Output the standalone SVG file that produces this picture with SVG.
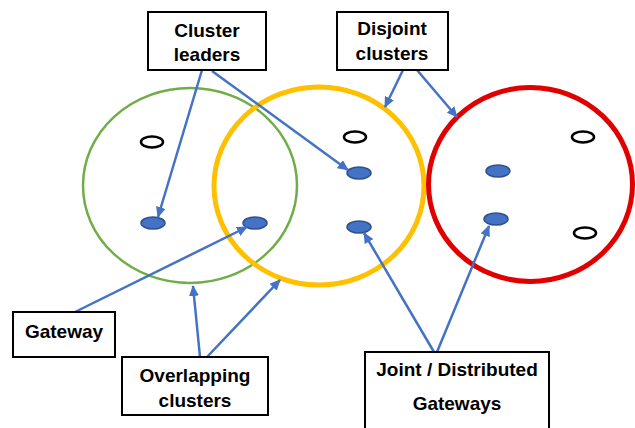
<svg xmlns="http://www.w3.org/2000/svg" width="635" height="428" viewBox="0 0 635 428">
<style>
.box{fill:#fff;stroke:#000;stroke-width:2}
.lbl{font-family:"Liberation Sans",Arial,sans-serif;font-weight:bold;font-size:19px;fill:#000;text-anchor:middle}
.dot{fill:#4472C4;stroke:#2F528F;stroke-width:1.5}
.hole{fill:#fff;stroke:#000;stroke-width:2.5}
.arr{stroke:#4472C4;stroke-width:2.5;fill:none;marker-end:url(#ah)}
</style>
<defs>
<marker id="ah" markerUnits="userSpaceOnUse" markerWidth="12" markerHeight="10" refX="10" refY="5" orient="auto">
<path d="M0,0 L11,5 L0,10 Z" fill="#4472C4"/>
</marker>
</defs>
<rect width="635" height="428" fill="#fff"/>
<g id="cluster-green">
<ellipse cx="190" cy="185.5" rx="107" ry="97.5" fill="none" stroke="#70AD47" stroke-width="2.5"/>
<ellipse cx="152" cy="142" rx="11" ry="5.5" class="hole"/>
<ellipse cx="153" cy="223" rx="12" ry="6" class="dot"/>
</g>
<g id="cluster-yellow">
<ellipse cx="319" cy="186" rx="105" ry="99" fill="none" stroke="#FFC000" stroke-width="5"/>
<ellipse cx="355" cy="137" rx="11" ry="5.5" class="hole"/>
<ellipse cx="359" cy="173" rx="12" ry="6" class="dot"/>
<ellipse cx="359" cy="227" rx="12" ry="6" class="dot"/>
</g>
<g id="gateway-node">
<ellipse cx="255" cy="223" rx="12" ry="6" class="dot"/>
</g>
<g id="cluster-red">
<ellipse cx="530.5" cy="184.5" rx="102" ry="97" fill="none" stroke="#E00000" stroke-width="5"/>
<ellipse cx="498" cy="171" rx="12" ry="6" class="dot"/>
<ellipse cx="496" cy="219" rx="12" ry="6" class="dot"/>
<ellipse cx="583" cy="137" rx="11" ry="5.5" class="hole"/>
<ellipse cx="585" cy="233" rx="11" ry="5.5" class="hole"/>
</g>
<g id="connectors">
<line x1="202" y1="70" x2="158" y2="217" class="arr"/>
<line x1="212" y1="71" x2="348" y2="170" class="arr"/>
<line x1="403" y1="70" x2="385" y2="107" class="arr"/>
<line x1="417" y1="70" x2="457" y2="117" class="arr"/>
<line x1="75" y1="312" x2="247" y2="227" class="arr"/>
<line x1="200" y1="357" x2="193" y2="286" class="arr"/>
<line x1="207" y1="357" x2="280" y2="280" class="arr"/>
<line x1="434" y1="352" x2="364" y2="233" class="arr"/>
<line x1="437" y1="352" x2="489" y2="226" class="arr"/>
</g>
<g id="box-cluster-leaders">
<rect x="148" y="12" width="118" height="58" class="box"/>
<text x="207" y="37" class="lbl">Cluster</text>
<text x="207" y="61" class="lbl">leaders</text>
</g>
<g id="box-disjoint">
<rect x="337" y="12" width="111" height="58" class="box"/>
<text x="392" y="35" class="lbl">Disjoint</text>
<text x="392" y="60" class="lbl">clusters</text>
</g>
<g id="box-gateway">
<rect x="13" y="312" width="102" height="45" class="box"/>
<text x="64" y="338" class="lbl">Gateway</text>
</g>
<g id="box-overlapping">
<rect x="122" y="357" width="146" height="58" class="box"/>
<text x="195" y="382" class="lbl">Overlapping</text>
<text x="195" y="407" class="lbl">clusters</text>
</g>
<g id="box-joint">
<rect x="365" y="352" width="184" height="80" class="box"/>
<text x="457" y="376" class="lbl">Joint / Distributed</text>
<text x="457" y="410" class="lbl">Gateways</text>
</g>
</svg>
